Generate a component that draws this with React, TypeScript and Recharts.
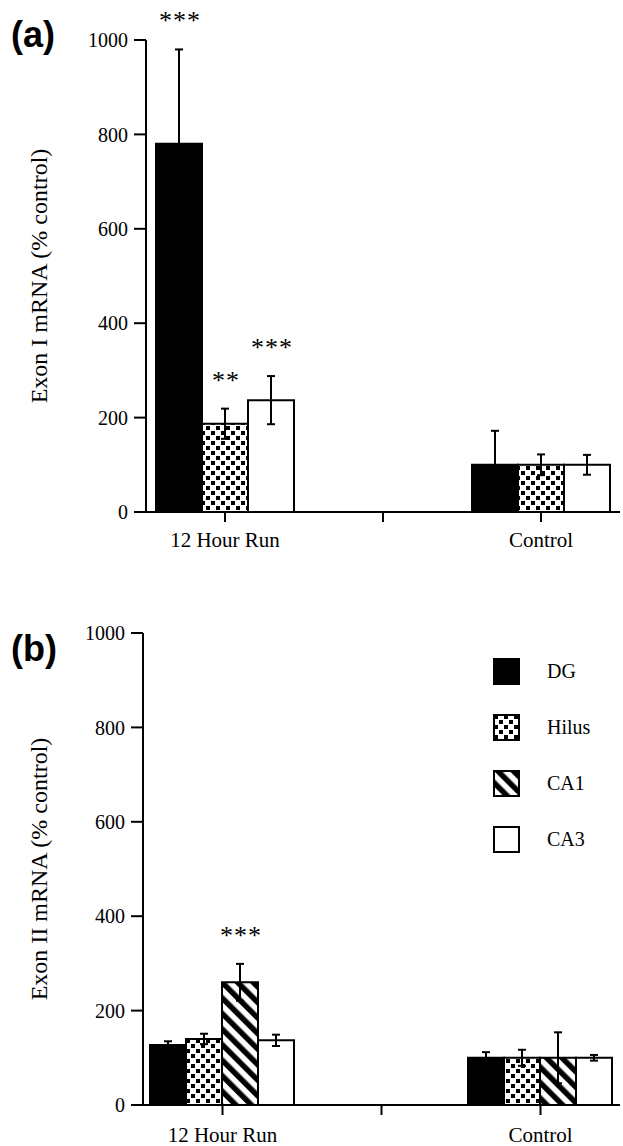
import React from 'react';
import { BarChart, Bar, XAxis, YAxis, ErrorBar, LabelList, Legend } from 'recharts';

const serif = '"Liberation Serif", "Times New Roman", serif';
const sans = '"Liberation Sans", Arial, sans-serif';

// categories (middle one is an empty spacer slot on the axis)
const groups = ['12 Hour Run', '', 'Control'];
const yTicks = [0, 200, 400, 600, 800, 1000];
const seriesNames = ['DG', 'Hilus', 'CA1', 'CA3'];

// (a) Exon I mRNA (% control)
const exon1DG = [780, null, 100];
const exon1DGErr = [200, null, 72];
const exon1DGSig = ['***', '', ''];
const exon1Hilus = [187, null, 100];
const exon1HilusErr = [32, null, 22];
const exon1HilusSig = ['**', '', ''];
const exon1CA3 = [237, null, 100];
const exon1CA3Err = [51, null, 21];
const exon1CA3Sig = ['***', '', ''];

// (b) Exon II mRNA (% control)
const exon2DG = [127, null, 100];
const exon2DGErr = [8, null, 12];
const exon2Hilus = [140, null, 100];
const exon2HilusErr = [11, null, 17];
const exon2CA1 = [260, null, 100];
const exon2CA1Err = [39, null, 54];
const exon2CA1Sig = ['***', '', ''];
const exon2CA3 = [137, null, 100];
const exon2CA3Err = [12, null, 6];

const dataA = groups.map((g, i) => ({
  group: g,
  dg: exon1DG[i], dgErr: exon1DGErr[i], dgSig: exon1DGSig[i],
  hilus: exon1Hilus[i], hilusErr: exon1HilusErr[i], hilusSig: exon1HilusSig[i],
  ca3: exon1CA3[i], ca3Err: exon1CA3Err[i], ca3Sig: exon1CA3Sig[i],
}));

const dataB = groups.map((g, i) => ({
  group: g,
  dg: exon2DG[i], dgErr: exon2DGErr[i],
  hilus: exon2Hilus[i], hilusErr: exon2HilusErr[i],
  ca1: exon2CA1[i], ca1Err: exon2CA1Err[i], ca1Sig: exon2CA1Sig[i],
  ca3: exon2CA3[i], ca3Err: exon2CA3Err[i],
}));

const Patterns = ({ id }: { id: string }) => (
  <defs>
    <pattern id={`${id}-hilus`} width="10" height="10" patternUnits="userSpaceOnUse">
      <rect width="10" height="10" fill="#fff" />
      <rect x="1" y="1" width="4" height="4" fill="#000" />
      <rect x="6" y="6" width="4" height="4" fill="#000" />
    </pattern>
    <pattern id={`${id}-ca1`} width="11" height="11" patternUnits="userSpaceOnUse" patternTransform="rotate(-45)">
      <rect width="11" height="11" fill="#fff" />
      <rect width="5.5" height="11" fill="#000" />
    </pattern>
  </defs>
);

// asterisks sit above the top of the error bar
const sigLabel = (vals: (number | null)[], errs: (number | null)[]) => (props: any) => {
  const vb = props.viewBox ?? props;
  const { x, y, width, height } = vb;
  const idx = props.index;
  const text = props.value;
  if (!text || vals[idx] == null) return null;
  const pxPerUnit = height / (vals[idx] as number);
  const top = y - (errs[idx] ?? 0) * pxPerUnit;
  return (
    <text x={x + width / 2 + 1} y={top - 20} textAnchor="middle" fontSize={26} fontFamily={serif} fill="#000" letterSpacing={1}>
      {text}
    </text>
  );
};

const axisStroke = { stroke: '#000', strokeWidth: 2 };
const tickFont = { fill: '#000', fontSize: 20, fontFamily: serif };
const barStroke = { stroke: '#000', strokeWidth: 2 };

const yLabel = (value: string) => ({
  value,
  angle: -90,
  position: 'insideLeft' as const,
  offset: 38,
  style: { textAnchor: 'middle', fontSize: 24, fill: '#000', fontFamily: serif },
});

const legendFills = ['#000', 'url(#b-hilus)', 'url(#b-ca1)', '#fff'];

const renderLegend = () => (
  <div style={{ fontFamily: serif }}>
    {seriesNames.map((n, i) => (
      <div key={n} style={{ display: 'flex', alignItems: 'center', height: 27, marginBottom: 29 }}>
        <svg width={27} height={27}>
          <rect x={1} y={1} width={25} height={25} fill={legendFills[i]} stroke="#000" strokeWidth={2} />
        </svg>
        <span style={{ marginLeft: 27, fontSize: 20, color: '#000' }}>{n}</span>
      </div>
    ))}
  </div>
);

export default function App() {
  return (
    <div style={{ position: 'absolute', left: 0, top: 0, width: 623, height: 1146, background: '#fff' }}>
      <svg width={623} height={1146} style={{ position: 'absolute', left: 0, top: 0 }}>
        <text x={11} y={47} fontFamily={sans} fontWeight="bold" fontSize={36} fill="#000">(a)</text>
        <text x={11} y={661} fontFamily={sans} fontWeight="bold" fontSize={36} fill="#000">(b)</text>
      </svg>

      {/* (a) Exon I */}
      <div style={{ position: 'absolute', left: 0, top: 0 }}>
        <BarChart width={623} height={560} data={dataA} margin={{ top: 40, right: 3, left: 0, bottom: 8 }}
          barGap={0} barCategoryGap={10}>
          <Patterns id="a" />
          <XAxis dataKey="group" height={40} interval={0} tickSize={10} tickMargin={10}
            axisLine={axisStroke} tickLine={axisStroke} tick={{ ...tickFont, fontSize: 21 }} />
          <YAxis width={146} domain={[0, 1000]} ticks={yTicks} tickSize={12} tickMargin={6}
            axisLine={axisStroke} tickLine={axisStroke} tick={tickFont} label={yLabel('Exon I mRNA (% control)')} />
          <Bar dataKey="dg" fill="#000" {...barStroke} isAnimationActive={false}>
            <ErrorBar dataKey="dgErr" width={4} stroke="#000" strokeWidth={2} />
            <LabelList dataKey="dgSig" content={sigLabel(exon1DG, exon1DGErr)} />
          </Bar>
          <Bar dataKey="hilus" fill="url(#a-hilus)" {...barStroke} isAnimationActive={false}>
            <ErrorBar dataKey="hilusErr" width={4} stroke="#000" strokeWidth={2} />
            <LabelList dataKey="hilusSig" content={sigLabel(exon1Hilus, exon1HilusErr)} />
          </Bar>
          <Bar dataKey="ca3" fill="#fff" {...barStroke} isAnimationActive={false}>
            <ErrorBar dataKey="ca3Err" width={4} stroke="#000" strokeWidth={2} />
            <LabelList dataKey="ca3Sig" content={sigLabel(exon1CA3, exon1CA3Err)} />
          </Bar>
        </BarChart>
      </div>

      {/* (b) Exon II */}
      <div style={{ position: 'absolute', left: 0, top: 593 }}>
        <BarChart width={623} height={553} data={dataB} margin={{ top: 40, right: 3, left: 0, bottom: 1 }}
          barGap={0} barCategoryGap={7}>
          <Patterns id="b" />
          <XAxis dataKey="group" height={40} interval={0} tickSize={10} tickMargin={12}
            axisLine={axisStroke} tickLine={axisStroke} tick={{ ...tickFont, fontSize: 21 }} />
          <YAxis width={143} domain={[0, 1000]} ticks={yTicks} tickSize={12} tickMargin={6}
            axisLine={axisStroke} tickLine={axisStroke} tick={tickFont} label={yLabel('Exon II mRNA (% control)')} />
          <Legend layout="horizontal" verticalAlign="middle" align="center"
            wrapperStyle={{ top: 65, left: 493, width: 130 }} content={renderLegend} />
          <Bar dataKey="dg" fill="#000" {...barStroke} isAnimationActive={false}>
            <ErrorBar dataKey="dgErr" width={4} stroke="#000" strokeWidth={2} />
          </Bar>
          <Bar dataKey="hilus" fill="url(#b-hilus)" {...barStroke} isAnimationActive={false}>
            <ErrorBar dataKey="hilusErr" width={4} stroke="#000" strokeWidth={2} />
          </Bar>
          <Bar dataKey="ca1" fill="url(#b-ca1)" {...barStroke} isAnimationActive={false}>
            <ErrorBar dataKey="ca1Err" width={4} stroke="#000" strokeWidth={2} />
            <LabelList dataKey="ca1Sig" content={sigLabel(exon2CA1, exon2CA1Err)} />
          </Bar>
          <Bar dataKey="ca3" fill="#fff" {...barStroke} isAnimationActive={false}>
            <ErrorBar dataKey="ca3Err" width={4} stroke="#000" strokeWidth={2} />
          </Bar>
        </BarChart>
      </div>
    </div>
  );
}
